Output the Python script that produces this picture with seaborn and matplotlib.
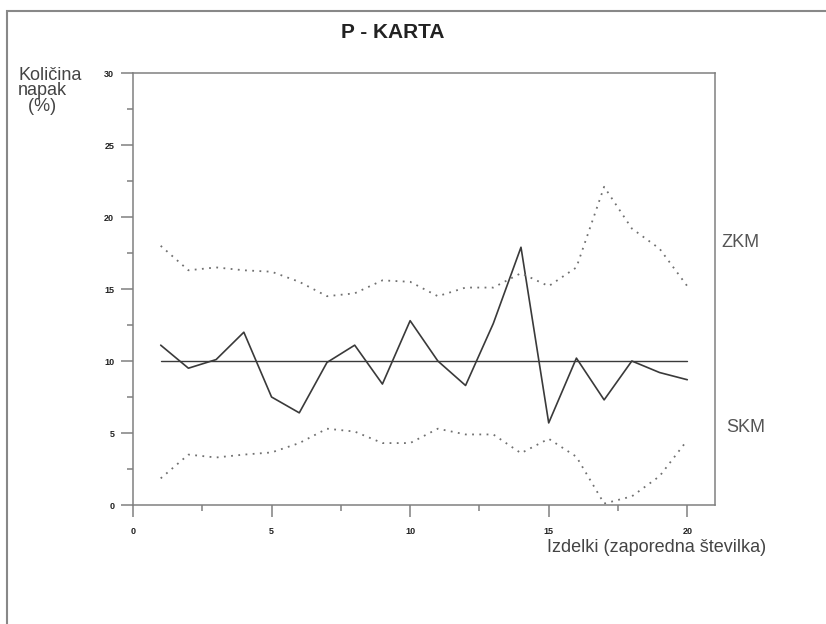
import matplotlib
matplotlib.use("Agg")
import matplotlib.pyplot as plt
from matplotlib.patches import Rectangle
from matplotlib.ticker import MultipleLocator
import seaborn as sns
import pandas as pd

# data
izdelki = list(range(1, 21))
napake = [11.1, 9.5, 10.1, 12.0, 7.5, 6.4, 9.9, 11.1, 8.4, 12.8,
          10.0, 8.3, 12.6, 17.9, 5.7, 10.2, 7.3, 10.0, 9.2, 8.7]
srednja = [10.0] * 20
zkm = [18.0, 16.3, 16.5, 16.3, 16.2, 15.5, 14.5, 14.7, 15.6, 15.5,
       14.5, 15.1, 15.1, 16.1, 15.2, 16.5, 22.1, 19.2, 17.8, 15.2]
skm = [1.85, 3.5, 3.3, 3.5, 3.65, 4.3, 5.3, 5.1, 4.3, 4.3,
       5.3, 4.9, 4.9, 3.6, 4.6, 3.35, 0.1, 0.6, 2.0, 4.5]

df = pd.DataFrame({'x': izdelki, 'p': napake, 'cl': srednja, 'zkm': zkm, 'skm': skm})

sns.set_style('white')
plt.rcParams['font.family'] = ['Liberation Sans', 'DejaVu Sans']

fig = plt.figure(figsize=(8.26, 6.24), dpi=100)
ax = fig.add_axes([0.161, 0.1907, 0.7046, 0.6923])

line_col = '#3a3a3a'
dot_col = '#707070'
sns.lineplot(data=df, x='x', y='p', ax=ax, color=line_col, lw=1.2)
sns.lineplot(data=df, x='x', y='cl', ax=ax, color=line_col, lw=1.0)
sns.lineplot(data=df, x='x', y='zkm', ax=ax, color=dot_col, lw=1.3, linestyle=(0, (1, 3)))
sns.lineplot(data=df, x='x', y='skm', ax=ax, color=dot_col, lw=1.3, linestyle=(0, (1, 3)))

ax.set_xlim(0, 21)
ax.set_ylim(0, 30)
ax.xaxis.set_major_locator(MultipleLocator(5))
ax.xaxis.set_minor_locator(MultipleLocator(2.5))
ax.yaxis.set_major_locator(MultipleLocator(5))
ax.yaxis.set_minor_locator(MultipleLocator(2.5))
ax.tick_params(which='major', direction='out', length=8.5, width=1.1, color='#808080',
               labelsize=6.5, pad=5, left=True, bottom=True, labelcolor='#222222')
ax.tick_params(which='minor', direction='out', length=4.5, width=1.1, color='#808080',
               left=True, bottom=True)
ax.tick_params(axis='x', which='major', pad=7)
for t in ax.get_xticklabels() + ax.get_yticklabels():
    t.set_fontweight('bold')
for s in ax.spines.values():
    s.set_color('#808080')
    s.set_linewidth(1.1)
ax.set_xlabel('')
ax.set_ylabel('')

fig.text(393 / 826, 1 - 33 / 624, 'P - KARTA', ha='center', va='center', fontsize=15,
         fontweight='bold', color='#222222')
fig.text(18 / 826, 1 - 67 / 624, 'Količina\nnapak\n  (%)', ha='left', va='top', fontsize=13,
         color='#444444', linespacing=0.88)
fig.text(547 / 826, 1 - 548 / 624, 'Izdelki (zaporedna številka)', ha='left', va='center',
         fontsize=13, color='#444444')
fig.text(721 / 826, 1 - 243 / 624, 'ZKM', ha='left', va='center', fontsize=13, color='#555555')
fig.text(726 / 826, 1 - 428 / 624, 'SKM', ha='left', va='center', fontsize=13, color='#555555')

fig.patches.append(Rectangle((7 / 826, -0.1), 1.2, 1.1 - 11 / 624, transform=fig.transFigure,
                             fill=False, edgecolor='#888888', lw=1.5))

fig.savefig('out.png', dpi=100)
